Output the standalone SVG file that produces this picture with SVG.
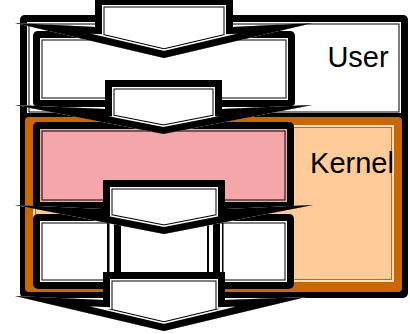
<svg xmlns="http://www.w3.org/2000/svg" width="410" height="334" viewBox="0 0 410 334">
<style>
.b1{fill:none;stroke:#000;stroke-width:19;stroke-linejoin:miter}
.w1{fill:none;stroke:#fff;stroke-width:17;stroke-linejoin:miter}
.p1{fill:none;stroke:#F4A6AA;stroke-width:17;stroke-linejoin:miter}
.b2{fill:none;stroke:#000;stroke-width:14;stroke-linejoin:miter}
.fw{fill:#fff}
.fp{fill:#F4A6AA}
.lbl{font-family:"Liberation Sans",Arial,sans-serif;font-size:29px;fill:#000;text-anchor:middle}
</style>
<defs>
<rect id="ub" x="20" y="15" width="388" height="106" rx="5"/>
<rect id="ib" x="33" y="31" width="262" height="76" rx="5"/>
<rect id="pb" x="33" y="122" width="261" height="87" rx="5"/>
<rect id="bb" x="33" y="214" width="261" height="75" rx="5"/>
<polygon id="a1" points="95,-2 233,-2 233,27 313,23 164,58 15,23 95,27"/>
<polygon id="a2" points="105,80 222,80 222,109 312,105 163.5,134 15,105 105,109"/>
<polygon id="a3" points="103,180 225,180 225,209 313,205 164,234 15,205 103,209"/>
<polygon id="a4" points="103,272 225,272 225,300 306,297 164,331 15,296 103,300"/>
<clipPath id="cub"><use href="#ub"/></clipPath>
<clipPath id="cib"><use href="#ib"/></clipPath>
<clipPath id="cpb"><use href="#pb"/></clipPath>
<clipPath id="cbb"><use href="#bb"/></clipPath>
<clipPath id="ca1"><use href="#a1"/></clipPath>
<clipPath id="ca2"><use href="#a2"/></clipPath>
<clipPath id="ca3"><use href="#a3"/></clipPath>
<clipPath id="ca4"><use href="#a4"/></clipPath>
</defs>

<g id="user">
<g clip-path="url(#cub)">
<use href="#ub" class="fw"/>
<use href="#ub" class="b1"/>
<use href="#ub" class="w1"/>
<use href="#ub" class="b2"/>
</g>
<text class="lbl" x="358" y="67">User</text>
</g>

<g id="kernel">
<rect x="20" y="113" width="388" height="185" rx="5" fill="#000"/>
<rect x="25" y="117" width="377" height="175" rx="4" fill="#CC6600"/>
<rect x="33" y="125" width="361" height="157" fill="#FFE4C8"/>
<rect x="35.5" y="127.5" width="356" height="152" fill="#FFCC99" stroke="#CC6600" stroke-width="1"/>
<text class="lbl" x="352" y="173">Kernel</text>
</g>

<g id="user-box">
<g clip-path="url(#cib)">
<use href="#ib" class="fw"/>
<use href="#ib" class="b1"/>
<use href="#ib" class="w1"/>
<use href="#ib" class="b2"/>
</g>
</g>

<g id="kernel-box">
<g clip-path="url(#cpb)">
<use href="#pb" class="fp"/>
<use href="#pb" class="b1"/>
<use href="#pb" class="p1"/>
<use href="#pb" class="b2"/>
</g>
</g>

<g id="lower-box">
<g clip-path="url(#cbb)">
<use href="#bb" class="fw"/>
<use href="#bb" class="b1"/>
<use href="#bb" class="w1"/>
<use href="#bb" class="b2"/>
</g>
<rect x="107" y="214" width="2.5" height="70" fill="#000"/>
<rect x="114" y="214" width="7" height="70" fill="#000"/>
<rect x="207" y="214" width="2" height="70" fill="#000"/>
<rect x="213" y="214" width="7" height="70" fill="#000"/>
<rect x="222" y="214" width="1.5" height="70" fill="#000"/>
</g>

<g id="connectors">
<g clip-path="url(#ca1)">
<use href="#a1" class="fw"/><use href="#a1" class="b1"/><use href="#a1" class="w1"/><use href="#a1" class="b2"/>
</g>
<g clip-path="url(#ca2)">
<use href="#a2" class="fw"/><use href="#a2" class="b1"/><use href="#a2" class="w1"/><use href="#a2" class="b2"/>
</g>
<g clip-path="url(#ca3)">
<use href="#a3" class="fw"/><use href="#a3" class="b1"/><use href="#a3" class="w1"/><use href="#a3" class="b2"/>
</g>
<g clip-path="url(#ca4)">
<use href="#a4" class="fw"/><use href="#a4" class="b1"/><use href="#a4" class="w1"/><use href="#a4" class="b2"/>
</g>
</g>
</svg>
